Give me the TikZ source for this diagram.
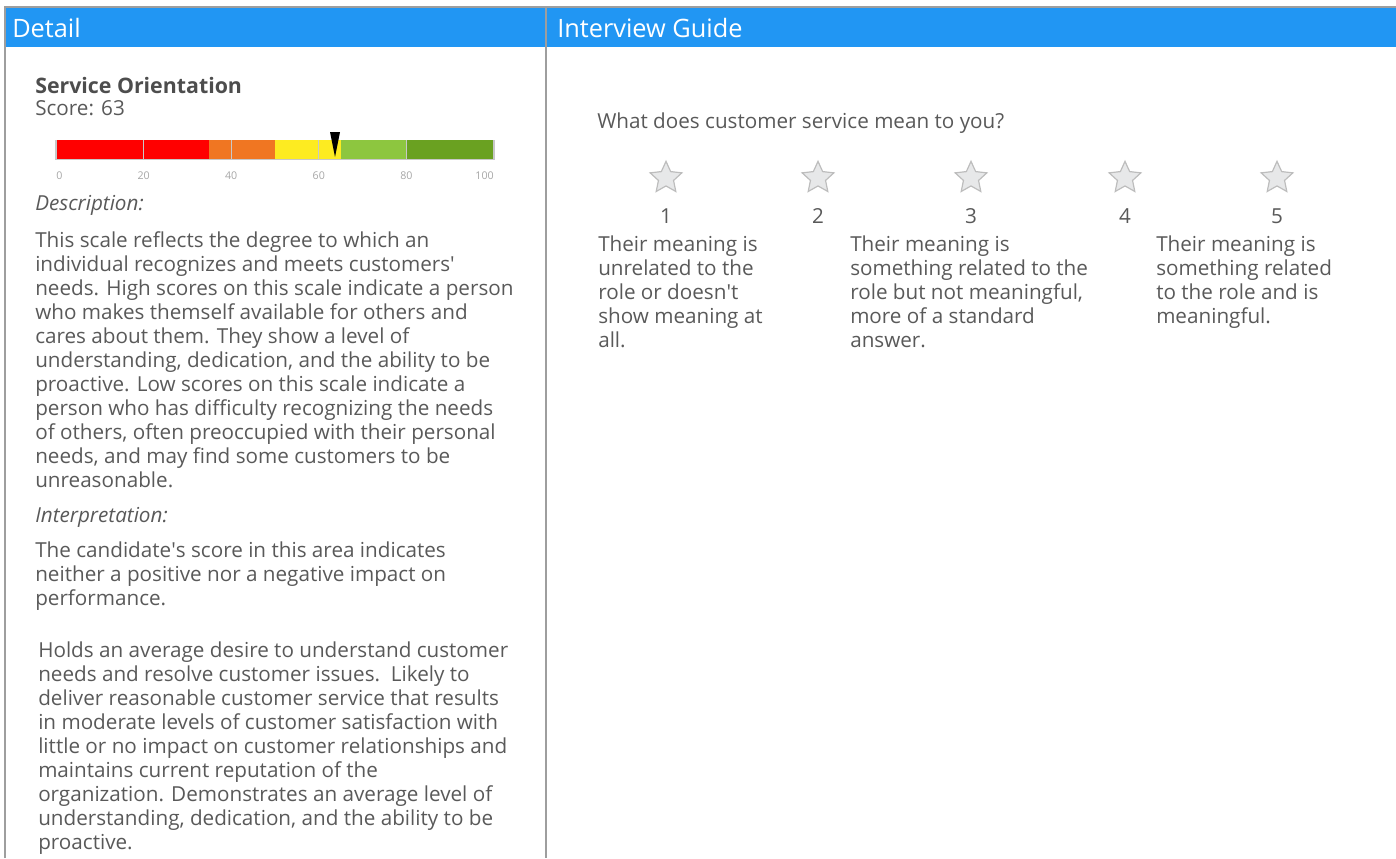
\documentclass[tikz,border=0pt]{standalone}
\usepackage{fontspec}
\setmainfont{Open Sans}
\usepackage{tikz}
\usetikzlibrary{positioning,shapes.geometric}
\definecolor{hdrblue}{HTML}{2196F3}
\definecolor{rulegray}{HTML}{9E9E9E}
\definecolor{txtgray}{HTML}{595959}
\definecolor{ttlgray}{HTML}{4D4D4D}
\definecolor{tickgray}{HTML}{A6A6A6}
\definecolor{gridgray}{HTML}{C8C8C8}
\definecolor{barred}{HTML}{FF0000}
\definecolor{barorange}{HTML}{F07622}
\definecolor{baryellow}{HTML}{FDEB21}
\definecolor{barlgreen}{HTML}{8DC63F}
\definecolor{bardgreen}{HTML}{6AA121}
\definecolor{stargray}{HTML}{E7E8E9}
\definecolor{staredge}{HTML}{BDBDBD}
\newcommand{\ap}{\textquotesingle}
\newcommand{\barx}[1]{56+4.38*#1}

\begin{document}
\begin{tikzpicture}[x=0.75pt,y=-0.75pt,
    hdr/.style={anchor=base west,inner sep=0,text=white,font=\fontsize{19}{22}\selectfont},
    body/.style={anchor=north west,inner sep=0,align=left,text=txtgray,font=\fontsize{15.5}{18}\selectfont},
    lbl/.style={anchor=base west,inner sep=0,text=txtgray,font=\fontsize{15.5}{18}\selectfont},
    tick/.style={anchor=base,inner sep=0,text=tickgray,font=\fontsize{8}{10}\selectfont},
    rating/.style={star,star points=5,star point ratio=2.1,minimum size=25pt,inner sep=0,
      draw=staredge,fill=stargray,line width=0.9pt}]
  \useasboundingbox (0,0) rectangle (1396,858);

  % frame and headers
  \fill[hdrblue] (5,8) rectangle (1396,47);
  \draw[rulegray,line width=1.5pt] (5,858) -- (5,7) -- (1396,7);
  \draw[rulegray,line width=1.5pt] (546,7) -- (546,858);
  \node[hdr] (detail) at (12,37) {Detail};
  \node[hdr] (guide) at (557,37) {Interview Guide};

  % score
  \node[anchor=base west,inner sep=0,text=ttlgray,font=\fontsize{16}{18}\selectfont\bfseries]
    (title) at (35,93) {Service Orientation};
  \node[lbl] (score) at (35,115) {Score: 63};

  \foreach \a/\b/\c in {0/35/barred,35/50/barorange,50/65/baryellow,65/80/barlgreen,80/100/bardgreen}
    \fill[\c] ({\barx{\a}},140) rectangle ({\barx{\b}},159);
  \foreach \v in {0,20,...,100}
    \draw[gridgray,line width=0.8pt] ({\barx{\v}},140) -- ({\barx{\v}},160);
  \draw[gridgray,line width=0.8pt] ({\barx{0}},159.5) -- ({\barx{100}},159.5);
  \foreach \v/\an in {0/base west,20/base,40/base,60/base,80/base,100/base east}
    \node[tick,anchor=\an] (t\v) at ({\barx{\v}},179) {\v};
  \coordinate (mk) at (335,157);
  \fill[black] (mk) -- ++(-5,-25) -- ++(10,0) -- cycle;

  % description
  \node[lbl,font=\fontsize{15.5}{18}\selectfont\itshape] (desclbl) at (35,210) {Description:};
  \node[body] (desc) at (35,231) {This scale reflects the degree to which an\\
    individual recognizes and meets customers\ap\\
    needs. High scores on this scale indicate a person\\
    who makes themself available for others and\\
    cares about them. They show a level of\\
    understanding, dedication, and the ability to be\\
    proactive. Low scores on this scale indicate a\\
    person who has difficulty recognizing the needs\\
    of others, often preoccupied with their personal\\
    needs, and may find some customers to be\\
    unreasonable.};

  \node[lbl,font=\fontsize{15.5}{18}\selectfont\itshape] (interplbl) at (35,522) {Interpretation:};
  \node[body] (interp) at (35,542) {The candidate\ap s score in this area indicates\\
    neither a positive nor a negative impact on\\
    performance.};

  \node[body] (holds) at (38,642) {Holds an average desire to understand customer\\
    needs and resolve customer issues.\ \ Likely to\\
    deliver reasonable customer service that results\\
    in moderate levels of customer satisfaction with\\
    little or no impact on customer relationships and\\
    maintains current reputation of the\\
    organization. Demonstrates an average level of\\
    understanding, dedication, and the ability to be\\
    proactive.};

  % interview guide
  \node[lbl] (question) at (597,128) {What does customer service mean to you?};
  \foreach \i/\x in {1/666,2/818,3/971,4/1125,5/1277} {
    \node[rating] (s\i) at (\x,178) {};
    \node[lbl,anchor=base] (n\i) at (\x,223) {\i};
  }
  \node[body] (ans1) at (598,236) {Their meaning is\\unrelated to the\\role or doesn\ap t\\show meaning at\\all.};
  \node[body] (ans3) at (850,236) {Their meaning is\\something related to the\\role but not meaningful,\\more of a standard\\answer.};
  \node[body] (ans5) at (1156,236) {Their meaning is\\something related\\to the role and is\\meaningful.};
\end{tikzpicture}
\end{document}
